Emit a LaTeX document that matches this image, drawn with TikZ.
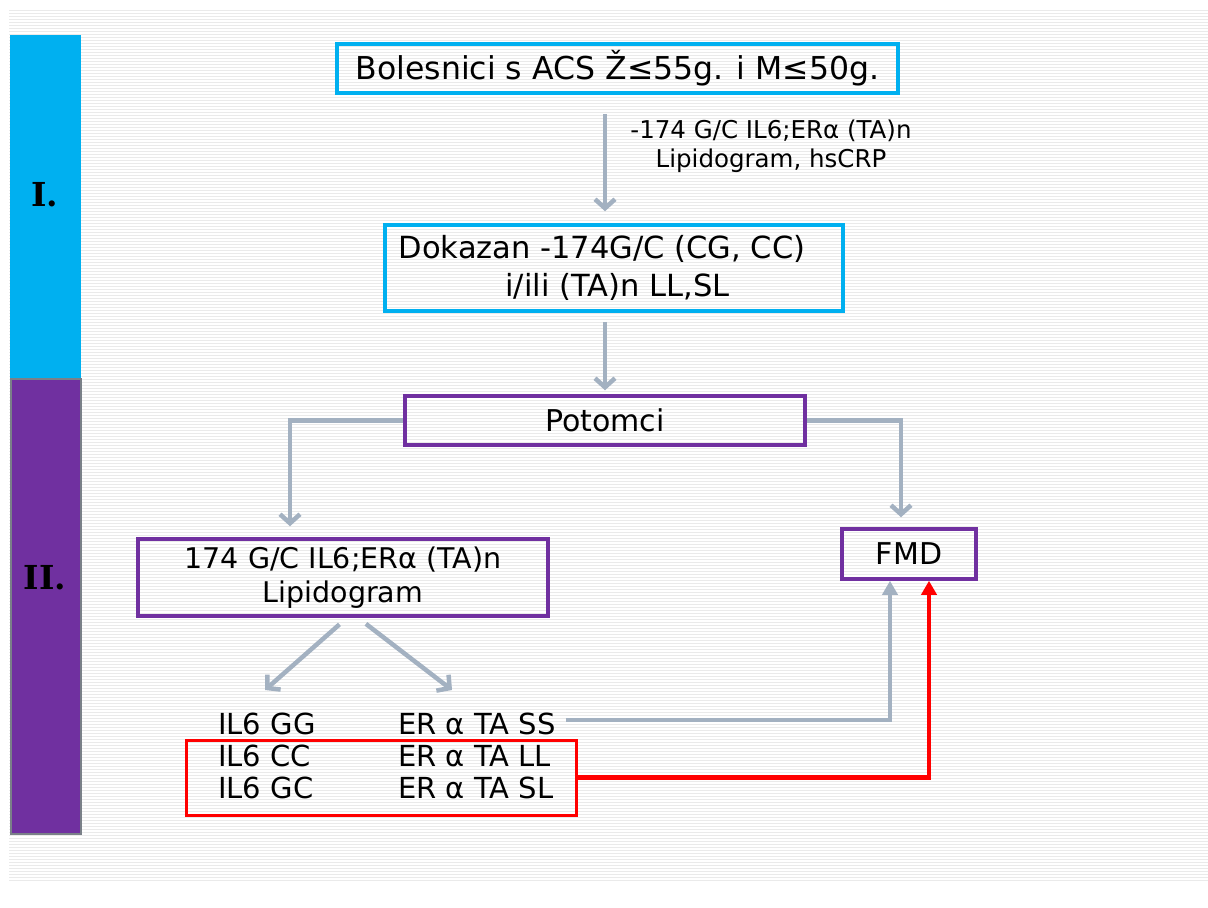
\documentclass[tikz,border=0pt]{standalone}
\usepackage{fontspec}
\setmainfont{DejaVu Sans}
\newfontfamily\barfont{DejaVu Serif}
\usetikzlibrary{arrows.meta,positioning}
\definecolor{slideblue}{HTML}{00B0F0}
\definecolor{slidepurple}{HTML}{7030A0}
\definecolor{arrowgrey}{HTML}{A3B1C1}
\definecolor{stripegrey}{HTML}{EAEAEA}
\definecolor{bargrey}{HTML}{7A8088}

\begin{document}
\begin{tikzpicture}[x=1pt,y=-1pt,
    bluebox/.style = {draw=slideblue,line width=3.5pt,font=\fontsize{31.5}{38}\selectfont},
    purplebox/.style = {draw=slidepurple,line width=3.5pt,font=\fontsize{28.5}{34}\selectfont},
    row/.style = {anchor=west,inner sep=0pt,font=\fontsize{29}{34}\selectfont},
    greyarrow/.style = {draw=arrowgrey,line width=4.5pt,-{Straight Barb[length=9pt,width=20pt]}},
    uparrow/.style = {line width=4.5pt,-{Triangle[length=14pt,width=15pt]}},
    barlabel/.style = {font=\barfont\bfseries\fontsize{33}{38}\selectfont}]
    \useasboundingbox (0,0) rectangle (1208,908);
    %Striped slide background
    \foreach \y in {10,13,...,882}
        \draw[stripegrey,line width=1pt] (9,\y) -- (1208,\y);

    %Phase bars on the left
    \fill[slideblue] (10,35) rectangle (81,378);
    \draw[bargrey,fill=slidepurple,line width=2pt] (11,379) rectangle (81,834);
    \node[barlabel] (b1) at (45,195) {I.};
    \node[barlabel] (b2) at (45,578) {II.};

    %Boxes
    \node[bluebox,minimum width=561pt,minimum height=49pt] (1) at (617.5,68.5) {Bolesnici s ACS Ž≤55g. i M≤50g.};
    \node[bluebox,minimum width=458pt,minimum height=86pt,align=left,font=\fontsize{30.5}{38}\selectfont] (2) at (614,268)
        {Dokazan -174G/C (CG, CC)\hspace*{24pt}\\\hspace*{3.5em}i/ili (TA)n LL,SL};
    \node[purplebox,minimum width=400pt,minimum height=49pt,font=\fontsize{30}{36}\selectfont] (3) at (605,420.5) {Potomci};
    \node[purplebox,minimum width=410pt,minimum height=77pt,align=center] (4) at (343,577.5)
        {174 G/C IL6;ERα (TA)n\\Lipidogram};
    \node[purplebox,minimum width=134pt,minimum height=50pt,font=\fontsize{30}{36}\selectfont] (5) at (909,554) {FMD};
    \node[font=\fontsize{24.5}{29}\selectfont,align=center] (6) at (771,146)
        {-174 G/C IL6;ERα (TA)n\\Lipidogram, hsCRP};

    %Genotype rows
    \node[row] (7) at (218,724) {IL6 GG};
    \node[row] (8) at (218,756) {IL6 CC};
    \node[row] (9) at (218,788) {IL6 GC};
    \node[row] (10) at (398,724) {ER α TA SS};
    \node[row] (11) at (398,756) {ER α TA LL};
    \node[row] (12) at (398,788) {ER α TA SL};
    \node[draw=red,line width=3pt,minimum width=390pt,minimum height=75pt] (13) at (381,777.5) {};

    \coordinate (c1) at (265,690);
    \coordinate (c2) at (452,690);

    %Arrows
    \draw[greyarrow,shorten <=19pt,shorten >=12pt] (1.south -| 3.north) -- (2.north -| 3.north);
    \draw[greyarrow,shorten <=9pt,shorten >=4pt] (2.south -| 3.north) -- (3.north);
    \draw[greyarrow,shorten >=11pt] (3.west) -| ([xshift=-53pt]4.north);
    \draw[greyarrow,shorten >=10pt] (3.east) -| ([xshift=-8pt]5.north);
    \draw[greyarrow,shorten <=10pt] ([xshift=4pt]4.south) -- (c1);
    \draw[greyarrow,shorten <=10pt] ([xshift=15pt]4.south) -- (c2);

    %Into FMD
    \draw[uparrow,arrowgrey] ([xshift=10pt,yshift=4pt]10.east) -| ([xshift=-19pt]5.south);
    \draw[uparrow,red] (13.east) -| ([xshift=20pt]5.south);
\end{tikzpicture}
\end{document}
